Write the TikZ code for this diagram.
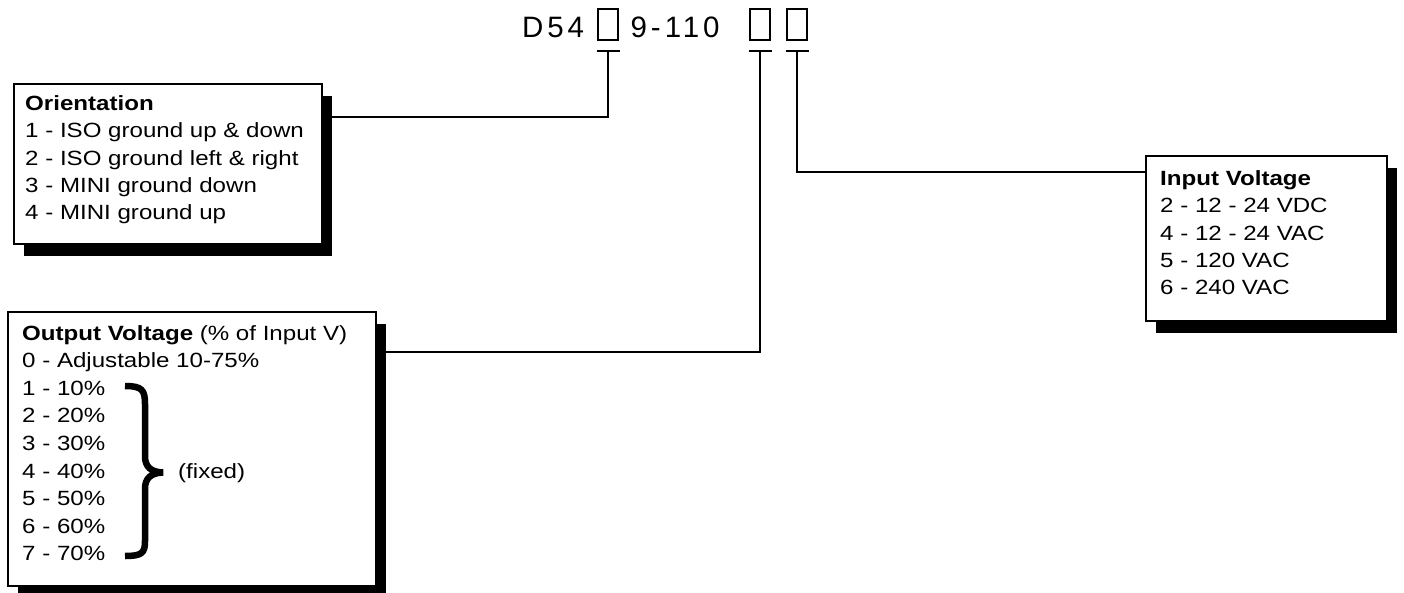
\documentclass[tikz,border=0pt]{standalone}
\usepackage{fontspec}
\setmainfont{Liberation Sans}
\newfontfamily\panelfont{Liberation Sans}[FakeStretch=1.17]
\newfontfamily\codefont{Liberation Sans}[LetterSpace=13]
\usetikzlibrary{shadows}

\tikzset{
  panel/.style={draw, line width=2.2bp, fill=white, inner sep=0pt, outer sep=0pt,
    drop shadow={shadow xshift=10bp, shadow yshift=-12bp, fill=black, opacity=1}},
  slot/.style={draw, line width=2.2bp, minimum width=20bp, minimum height=31bp, inner sep=0pt, outer sep=0pt},
  wire/.style={line width=2.2bp},
  entry/.style={anchor=base west, inner sep=0pt, font=\panelfont\fontsize{20.6bp}{24bp}\selectfont},
  code/.style={anchor=base west, inner sep=0pt, font=\codefont\fontsize{29.5bp}{34bp}\selectfont}
}

\begin{document}
\begin{tikzpicture}[x=1bp, y=-1bp]
\useasboundingbox (0,0) rectangle (1404,593);
% part number
\node[code] (pre) at (522,37.7) {D54};
\node[slot] (sA) at (608,24.5) {};
\node[code] (mid) at (630.5,37.7) {9-\kern4bp110};
\node[slot] (sB) at (760,24.5) {};
\node[slot] (sC) at (797,24.5) {};
\foreach \s in {sA,sB,sC}
  \draw[wire] ([shift={(-11.5bp,-11bp)}]\s.south) -- ([shift={(11.5bp,-11bp)}]\s.south);

% option panels
\node[panel, minimum width=308bp, minimum height=160bp] (orient) at (168,164) {};
\node[panel, minimum width=368bp, minimum height=274bp] (outv) at (192,449) {};
\node[panel, minimum width=241bp, minimum height=165bp] (inv) at (1266.5,238.5) {};

\node[entry] (otitle) at (25,110.7) {\bfseries Orientation};
\foreach \t [count=\i] in {1 - ISO ground up \& down, 2 - ISO ground left \& right,
    3 - MINI ground down, 4 - MINI ground up}
  \node[entry] (o\i) at (25,110.7+27.2*\i) {\t};

\node[entry] (vtitle) at (22,340) {{\bfseries Output Voltage} (\% of Input V)};
\foreach \t [count=\i] in {0 - Adjustable 10-75\%, 1 - 10\%, 2 - 20\%, 3 - 30\%,
    4 - 40\%, 5 - 50\%, 6 - 60\%, 7 - 70\%}
  \node[entry] (v\i) at (22,340+27.6*\i) {\t};
\draw[line width=6.5bp] (125,386) .. controls (142,386) and (145,390) .. (145,404)
  -- (145,456) .. controls (145,467) and (151,472) .. (163,472.5)
  .. controls (151,473) and (145,478) .. (145,489)
  -- (145,541) .. controls (145,553) and (142,556) .. (125,556);
\node[entry] (fixed) at (178,478.3) {(fixed)};

\node[entry] (ititle) at (1160,185.7) {\bfseries Input Voltage};
\foreach \t [count=\i] in {2 - 12 - 24 VDC, 4 - 12 - 24 VAC, 5 - 120 VAC, 6 - 240 VAC}
  \node[entry] (i\i) at (1160,185.7+27.2*\i) {\t};

% connectors
\draw[wire] ([yshift=-33bp]orient.north east) -| ([yshift=-11bp]sA.south);
\draw[wire] ([yshift=-40bp]outv.north east) -| ([yshift=-11bp]sB.south);
\draw[wire] ([yshift=-16bp]inv.north west) -| ([yshift=-11bp]sC.south);
\end{tikzpicture}
\end{document}
